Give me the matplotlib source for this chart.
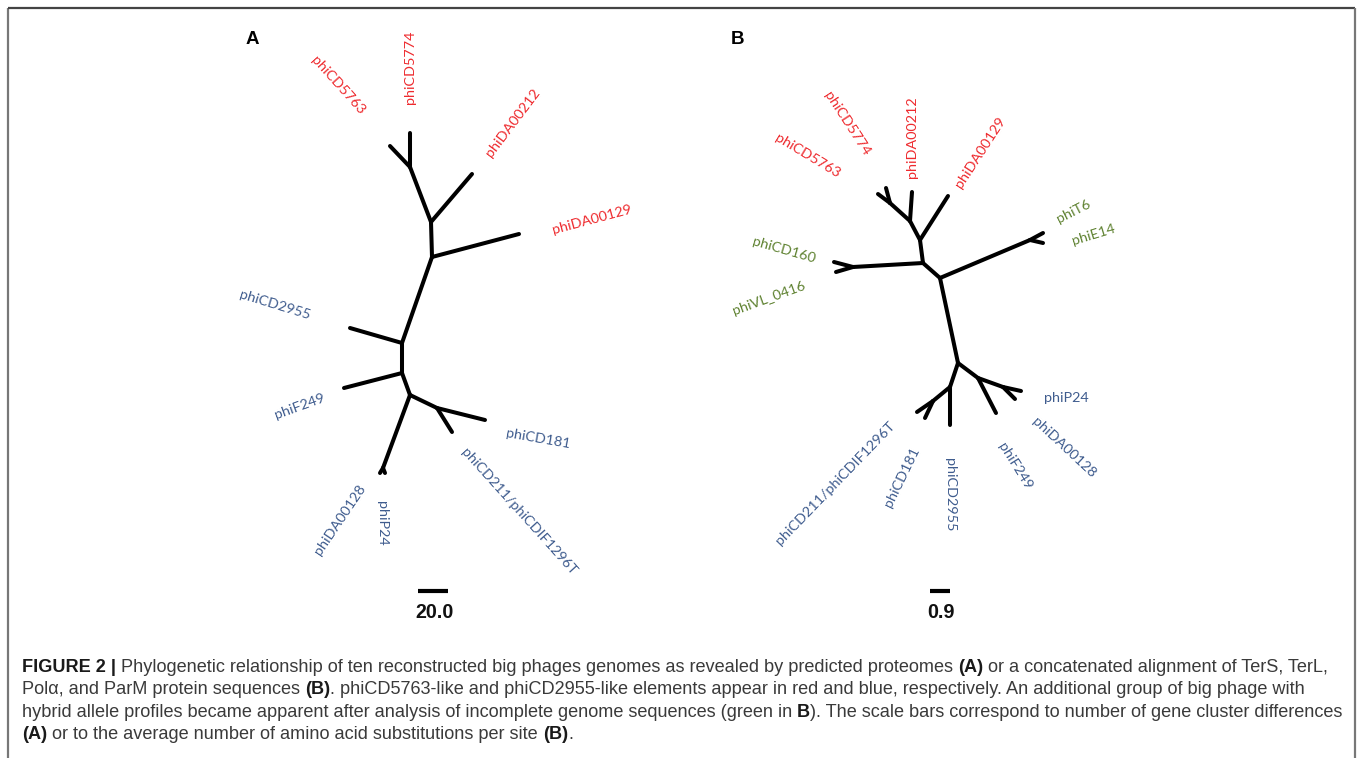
import matplotlib
matplotlib.use("Agg")
import matplotlib.pyplot as plt

# ---------------- data ----------------
# Tree A (proteome-based): node names and layout positions (pixel space of the figure)
a_nodes = ["n1", "n2", "n3", "n4", "n5", "n6", "n7", "n8",
           "phiCD5774", "phiCD5763", "phiDA00212", "phiDA00129", "phiCD2955",
           "phiF249", "phiCD181", "phiCD211", "phiP24", "phiDA00128"]
a_x = [410, 431, 432, 402, 402, 410, 437, 383,
       410, 390, 472, 519, 350, 344, 485, 452, 380, 385]
a_y = [167, 222, 257, 343, 373, 395, 408, 468,
       133, 146, 174, 234, 328, 388, 420, 432, 473, 473]
a_edges = [("n1", "phiCD5774"), ("n1", "phiCD5763"), ("n1", "n2"), ("n2", "phiDA00212"),
           ("n2", "n3"), ("n3", "phiDA00129"), ("n3", "n4"), ("n4", "phiCD2955"),
           ("n4", "n5"), ("n5", "phiF249"), ("n5", "n6"), ("n6", "n7"), ("n7", "phiCD181"),
           ("n7", "phiCD211"), ("n6", "n8"), ("n8", "phiP24"), ("n8", "phiDA00128")]

# Tree B (TerS/TerL/Pol/ParM concatenated alignment)
b_nodes = ["na", "nb", "nc", "nd", "ng1", "ne", "ng2", "nf", "ng", "nh", "ni", "nj",
           "phiCD5763", "phiCD5774", "phiDA00212", "phiDA00129", "phiCD160", "phiVL_0416",
           "phiT6", "phiE14", "phiCD2955", "phiCD211", "phiCD181", "phiF249", "phiP24",
           "phiDA00128"]
b_x = [923, 920, 910, 890, 853, 940, 1030, 958, 950, 933, 978, 1003,
       878, 886, 912, 948, 834, 836, 1043, 1043, 950, 917, 925, 996, 1021, 1015]
b_y = [263, 240, 221, 203, 267, 278, 240, 363, 387, 401, 378, 387,
       194, 188, 192, 196, 262, 272, 233, 243, 425, 412, 418, 413, 391, 399]
b_edges = [("na", "nb"), ("nb", "phiDA00129"), ("nb", "nc"), ("nc", "phiDA00212"),
           ("nc", "nd"), ("nd", "phiCD5763"), ("nd", "phiCD5774"), ("na", "ng1"),
           ("ng1", "phiCD160"), ("ng1", "phiVL_0416"), ("na", "ne"), ("ne", "ng2"),
           ("ng2", "phiT6"), ("ng2", "phiE14"), ("ne", "nf"), ("nf", "ng"),
           ("ng", "phiCD2955"), ("ng", "nh"), ("nh", "phiCD211"), ("nh", "phiCD181"),
           ("nf", "ni"), ("ni", "phiF249"), ("ni", "nj"), ("nj", "phiP24"), ("nj", "phiDA00128")]

# Leaf labels: text, group, x, y, rotation
a_labels = ["phiCD5763", "phiCD5774", "phiDA00212", "phiDA00129", "phiCD2955",
            "phiF249", "phiCD181", "phiCD211/phiCDIF1296T", "phiDA00128", "phiP24"]
a_groups = ["red", "red", "red", "red", "blue", "blue", "blue", "blue", "blue", "blue"]
a_lx = [338, 410, 513, 592, 275, 300, 538, 519, 340, 382]
a_ly = [85, 67, 123, 220, 305, 406, 439, 512, 520, 523]
a_rot = [-48, 90, 53, 15, -17, 20, -10, -48, 56, -90]

b_labels = ["phiCD5763", "phiCD5774", "phiDA00212", "phiDA00129", "phiT6", "phiE14",
            "phiCD160", "phiVL_0416", "phiCD211/phiCDIF1296T", "phiCD181", "phiCD2955",
            "phiF249", "phiDA00128", "phiP24"]
b_groups = ["red", "red", "red", "red", "green", "green", "green", "green",
            "blue", "blue", "blue", "blue", "blue", "blue"]
b_lx = [808, 847, 912, 980, 1074, 1094, 784, 769, 835, 902, 950, 1015, 1064, 1066]
b_ly = [156, 124, 137, 152, 211, 235, 250, 298, 483, 477, 495, 466, 447, 398]
b_rot = [-31, -57, 90, 57, 27, 17, -16, 20, 46, 64, -90, -58, -43, 0]

scale_labels = ["20.0", "0.9"]
scale_x0 = [418, 930]
scale_x1 = [448, 950]
scale_y = [591, 591]

panel_letters = ["A", "B"]

caption_lines = [
    [("FIGURE 2 |", True), (" Phylogenetic relationship of ten reconstructed big phages genomes as revealed by predicted proteomes ", False),
     ("(A)", True), (" or a concatenated alignment of TerS, TerL,", False)],
    [("Pol\u03b1, and ParM protein sequences ", False), ("(B)", True),
     (". phiCD5763-like and phiCD2955-like elements appear in red and blue, respectively. An additional group of big phage with", False)],
    [("hybrid allele profiles became apparent after analysis of incomplete genome sequences (green in ", False), ("B", True),
     ("). The scale bars correspond to number of gene cluster differences", False)],
    [("(A)", True), (" or to the average number of amino acid substitutions per site ", False), ("(B)", True), (".", False)],
]

# ---------------- style ----------------
W, H = 1357, 758
colors = {"red": "#ee2a2e", "blue": "#3f5c8e", "green": "#5f8231"}
label_family = ["Lato", "DejaVu Sans"]
cap_family = ["Liberation Sans Narrow", "Liberation Sans", "DejaVu Sans"]

fig = plt.figure(figsize=(W / 100, H / 100), dpi=100)
ax = fig.add_axes([0, 0, 1, 1])
ax.set_xlim(0, W)
ax.set_ylim(H, 0)
ax.axis("off")

# frame
ax.plot([8, 8], [8, H], color="#777777", lw=1.6, solid_capstyle="butt")
ax.plot([8, 1355], [8, 8], color="#444444", lw=1.6, solid_capstyle="butt")
ax.plot([1355, 1355], [8, H], color="#777777", lw=1.6, solid_capstyle="butt")


def draw_tree(nodes, xs, ys, edges):
    pos = {n: (x, y) for n, x, y in zip(nodes, xs, ys)}
    for p, c in edges:
        (x0, y0), (x1, y1) = pos[p], pos[c]
        ax.plot([x0, x1], [y0, y1], color="black", lw=2.9, solid_capstyle="round")


draw_tree(a_nodes, a_x, a_y, a_edges)
draw_tree(b_nodes, b_x, b_y, b_edges)

for labels, groups, lx, ly, rot in [(a_labels, a_groups, a_lx, a_ly, a_rot),
                                    (b_labels, b_groups, b_lx, b_ly, b_rot)]:
    for t, g, x, y, r in zip(labels, groups, lx, ly, rot):
        ax.text(x, y, t, color=colors[g], fontsize=10.4, family=label_family,
                rotation=r, rotation_mode="anchor", ha="center", va="center")

for lab, x0, x1, y in zip(scale_labels, scale_x0, scale_x1, scale_y):
    ax.plot([x0, x1], [y, y], color="black", lw=3, solid_capstyle="butt")
    ax.text((x0 + x1) / 2 + 1, y + 21, lab, fontsize=14.2, fontweight="bold",
            family=cap_family, ha="center", va="center", color="#111111")

ax.text(252, 40, panel_letters[0], fontsize=13.5, fontweight="bold",
        family=["Liberation Sans", "DejaVu Sans"], ha="center", va="center")
ax.text(737, 40, panel_letters[1], fontsize=13.5, fontweight="bold",
        family=["Liberation Sans", "DejaVu Sans"], ha="center", va="center")

# caption
renderer = fig.canvas.get_renderer()


def measure(txt, size, bold):
    t = ax.text(0, 0, txt, fontsize=size, fontweight="bold" if bold else "normal",
                family=cap_family)
    w = t.get_window_extent(renderer).width
    t.remove()
    return w


def space_w(size, bold):
    return measure("n n", size, bold) - measure("nn", size, bold)


def line_width(segs, size):
    tot = 0
    for txt, bold in segs:
        s = txt.strip(" ")
        lead = len(txt) - len(txt.lstrip(" "))
        trail = len(txt) - len(txt.rstrip(" "))
        sw = space_w(size, bold)
        tot += lead * sw + (measure(s, size, bold) if s else 0) + trail * sw
    return tot


def draw_caption_line(segs, x0, y, size):
    x = x0
    for txt, bold in segs:
        s = txt.strip(" ")
        lead = len(txt) - len(txt.lstrip(" "))
        trail = len(txt) - len(txt.rstrip(" "))
        sw = space_w(size, bold)
        x += lead * sw
        if s:
            t = ax.text(x, y, s, fontsize=size, fontweight="bold" if bold else "normal",
                        family=cap_family, ha="left", va="baseline",
                        color="#1a1a1a" if bold else "#3a3a3a")
            x += t.get_window_extent(renderer).width
        x += trail * sw


base = 11.0
wmax = max(line_width(segs, base) for segs in caption_lines)
cap_size = base * (1322.0 / wmax)
cap_y = [672, 694, 717, 739]
for segs, y in zip(caption_lines, cap_y):
    draw_caption_line(segs, 22, y, cap_size)

fig.savefig("out.png", dpi=100, facecolor="white")
